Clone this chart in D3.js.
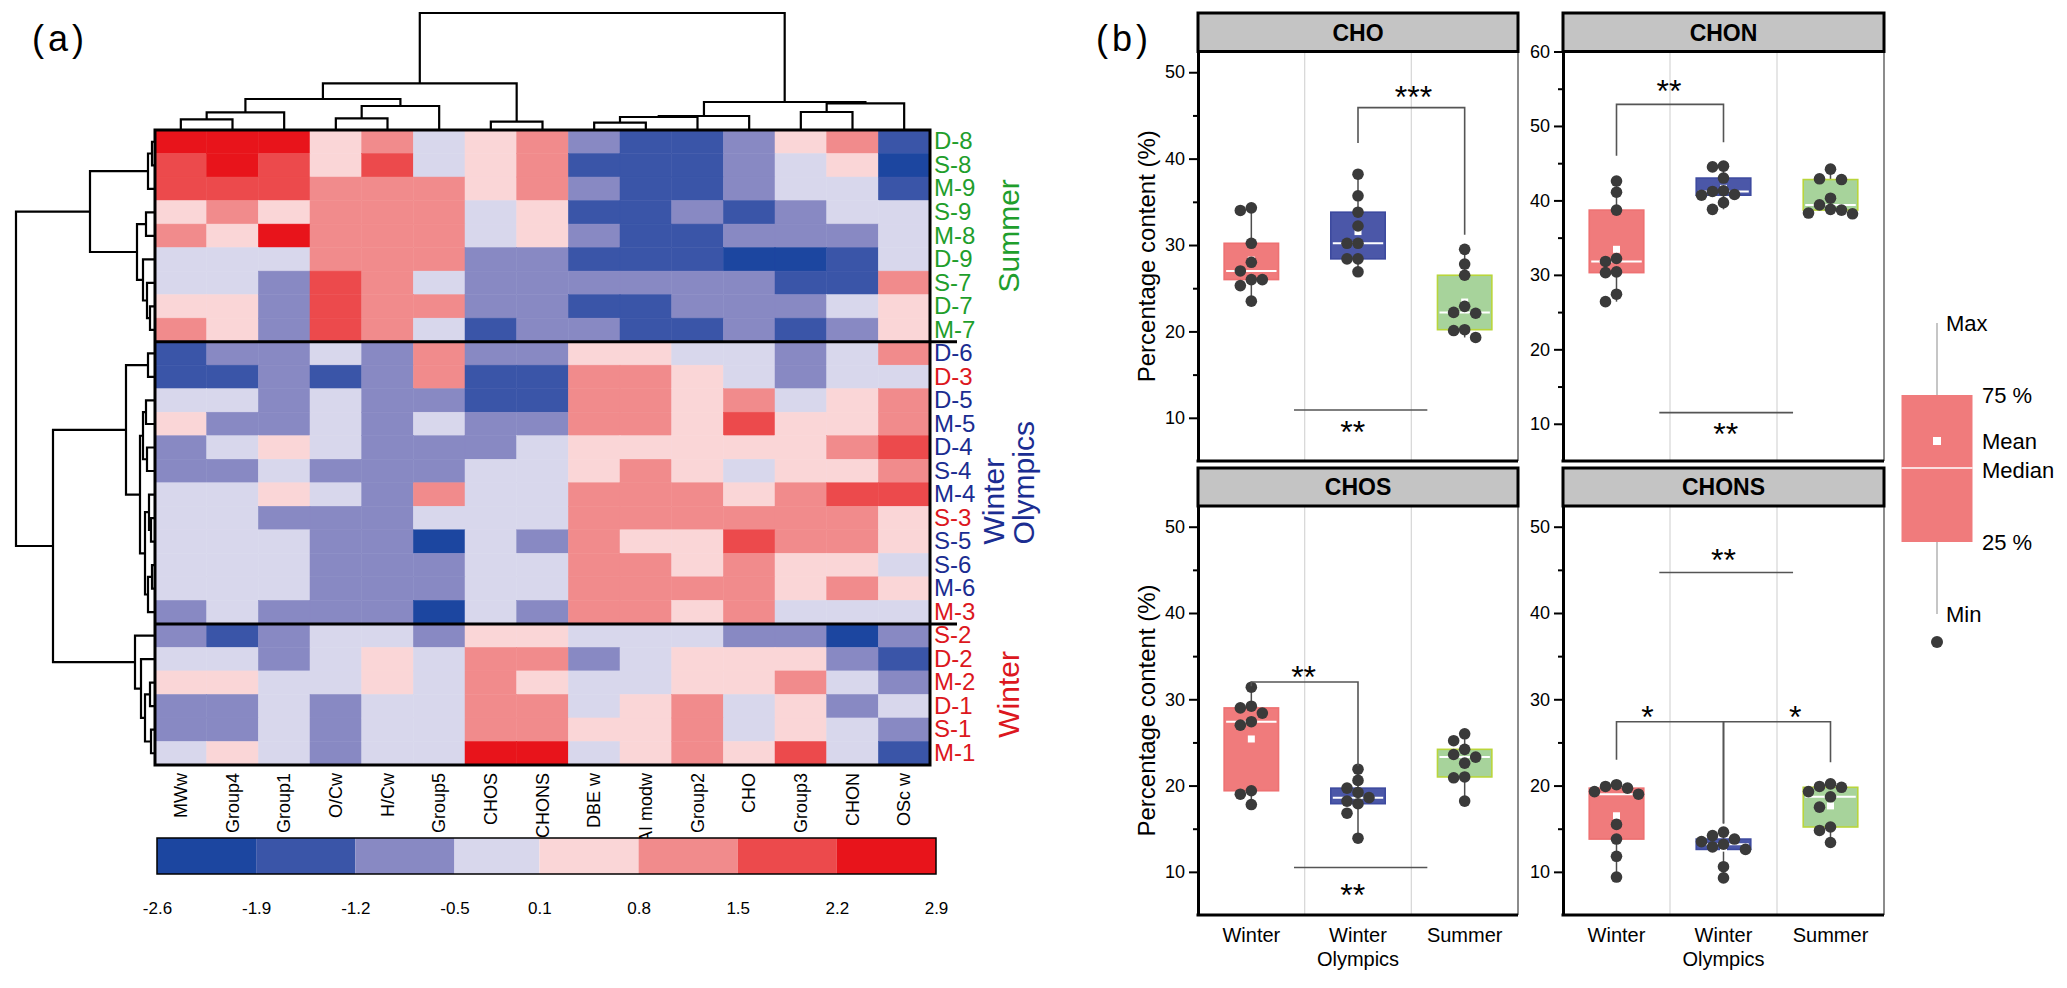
<!DOCTYPE html>
<html>
<head>
<meta charset="utf-8">
<title>Heatmap and box plots</title>
<script src="https://cdn.jsdelivr.net/npm/d3@7/dist/d3.min.js"></script>
<style>
  body { margin: 0; background: #fff; }
  svg { display: block; font-family: "Liberation Sans", Arial, sans-serif; }
</style>
</head>
<body>
<svg id="chart" width="2067" height="988"></svg>
<script>
// ---------------- data: panel (a) ----------------
const columns = ["MWw", "Group4", "Group1", "O/Cw", "H/Cw", "Group5", "CHOS", "CHONS",
                 "DBE w", "AI modw", "Group2", "CHO", "Group3", "CHON", "OSc w"];
const samples = ["D-8", "S-8", "M-9", "S-9", "M-8", "D-9", "S-7", "D-7", "M-7",
                 "D-6", "D-3", "D-5", "M-5", "D-4", "S-4", "M-4", "S-3", "S-5", "S-6", "M-6", "M-3",
                 "S-2", "D-2", "M-2", "D-1", "S-1", "M-1"];
// z-scores
const zscores = [
  [2.5, 2.5, 2.5, 0.4, 1.1, -0.2, 0.4, 1.1, -0.9, -1.6, -1.6, -0.9, 0.4, 1.1, -1.6],
  [1.8, 2.5, 1.8, 0.4, 1.8, -0.2, 0.4, 1.1, -1.6, -1.6, -1.6, -0.9, -0.2, 0.4, -2.3],
  [1.8, 1.8, 1.8, 1.1, 1.1, 1.1, 0.4, 1.1, -0.9, -1.6, -1.6, -0.9, -0.2, -0.2, -1.6],
  [0.4, 1.1, 0.4, 1.1, 1.1, 1.1, -0.2, 0.4, -1.6, -1.6, -0.9, -1.6, -0.9, -0.2, -0.2],
  [1.1, 0.4, 2.5, 1.1, 1.1, 1.1, -0.2, 0.4, -0.9, -1.6, -1.6, -0.9, -0.9, -0.9, -0.2],
  [-0.2, -0.2, -0.2, 1.1, 1.1, 1.1, -0.9, -0.9, -1.6, -1.6, -1.6, -2.3, -2.3, -1.6, -0.2],
  [-0.2, -0.2, -0.9, 1.8, 1.1, -0.2, -0.9, -0.9, -0.9, -0.9, -0.9, -0.9, -1.6, -1.6, 1.1],
  [0.4, 0.4, -0.9, 1.8, 1.1, 1.1, -0.9, -0.9, -1.6, -1.6, -0.9, -0.9, -0.9, -0.2, 0.4],
  [1.1, 0.4, -0.9, 1.8, 1.1, -0.2, -1.6, -0.9, -0.9, -1.6, -1.6, -0.9, -1.6, -0.9, 0.4],
  [-1.6, -0.9, -0.9, -0.2, -0.9, 1.1, -0.9, -0.9, 0.4, 0.4, -0.2, -0.2, -0.9, -0.2, 1.1],
  [-1.6, -1.6, -0.9, -1.6, -0.9, 1.1, -1.6, -1.6, 1.1, 1.1, 0.4, -0.2, -0.9, -0.2, -0.2],
  [-0.2, -0.2, -0.9, -0.2, -0.9, -0.9, -1.6, -1.6, 1.1, 1.1, 0.4, 1.1, -0.2, 0.4, 1.1],
  [0.4, -0.9, -0.9, -0.2, -0.9, -0.2, -0.9, -0.9, 1.1, 1.1, 0.4, 1.8, 0.4, 0.4, 1.1],
  [-0.9, -0.2, 0.4, -0.2, -0.9, -0.9, -0.9, -0.2, 0.4, 0.4, 0.4, 0.4, 0.4, 1.1, 1.8],
  [-0.9, -0.9, -0.2, -0.9, -0.9, -0.9, -0.2, -0.2, 0.4, 1.1, 0.4, -0.2, 0.4, 0.4, 1.1],
  [-0.2, -0.2, 0.4, -0.2, -0.9, 1.1, -0.2, -0.2, 1.1, 1.1, 1.1, 0.4, 1.1, 1.8, 1.8],
  [-0.2, -0.2, -0.9, -0.9, -0.9, -0.2, -0.2, -0.2, 1.1, 1.1, 1.1, 1.1, 1.1, 1.1, 0.4],
  [-0.2, -0.2, -0.2, -0.9, -0.9, -2.3, -0.2, -0.9, 1.1, 0.4, 0.4, 1.8, 1.1, 1.1, 0.4],
  [-0.2, -0.2, -0.2, -0.9, -0.9, -0.9, -0.2, -0.2, 1.1, 1.1, 0.4, 1.1, 0.4, 0.4, -0.2],
  [-0.2, -0.2, -0.2, -0.9, -0.9, -0.9, -0.2, -0.2, 1.1, 1.1, 1.1, 1.1, 0.4, 1.1, 0.4],
  [-0.9, -0.2, -0.9, -0.9, -0.9, -2.3, -0.2, -0.9, 1.1, 1.1, 0.4, 1.1, -0.2, -0.2, -0.2],
  [-0.9, -1.6, -0.9, -0.2, -0.2, -0.9, 0.4, 0.4, -0.2, -0.2, -0.2, -0.9, -0.9, -2.3, -0.9],
  [-0.2, -0.2, -0.9, -0.2, 0.4, -0.2, 1.1, 1.1, -0.9, -0.2, 0.4, 0.4, 0.4, -0.9, -1.6],
  [0.4, 0.4, -0.2, -0.2, 0.4, -0.2, 1.1, 0.4, -0.2, -0.2, 0.4, 0.4, 1.1, -0.2, -0.9],
  [-0.9, -0.9, -0.2, -0.9, -0.2, -0.2, 1.1, 1.1, -0.2, 0.4, 1.1, -0.2, 0.4, -0.9, -0.2],
  [-0.9, -0.9, -0.2, -0.9, -0.2, -0.2, 1.1, 1.1, 0.4, 0.4, 1.1, -0.2, 0.4, -0.2, -0.9],
  [-0.2, 0.4, -0.2, -0.9, -0.2, -0.2, 2.5, 2.5, -0.2, 0.4, 1.1, 0.4, 1.8, -0.2, -1.6]
];
const colorBreaks = [-2.6, -1.9, -1.2, -0.5, 0.1, 0.8, 1.5, 2.2, 2.9];
const colorSteps = ["#1c46a0", "#3a55a8", "#8889c3", "#d8d7ec", "#fad6d7", "#f18b8c", "#ec4a4c", "#e8141b"];
const clusterNames = [["Summer"], ["Winter", "Olympics"], ["Winter"]];
const clusterSizes = [9, 12, 6];

// linkage trees: merge(height, left, right), numbers are leaf indices
function merge(h, a, b) {
  const wrap = c => (typeof c === "number" ? { leaf: c } : c);
  return { h, children: [wrap(a), wrap(b)] };
}
const colTree = merge(117,
  merge(46.7,
    merge(31, merge(17.7, merge(10.7, 0, 1), 2), merge(24, merge(11.7, 3, 4), 5)),
    merge(8.3, 6, 7)),
  merge(28,
    merge(14, merge(13, merge(7.3, 8, 9), 10), 11),
    merge(26.6, merge(18, 12, 13), 14)));
const rowTree = merge(139,
  merge(65,
    merge(7, merge(3, 0, 1), 2),
    merge(18, merge(9, 3, 4), merge(12, 5, merge(8, 6, merge(5, 7, 8))))),
  merge(102,
    merge(29, merge(7, 9, 10),
      merge(15, merge(12, merge(9, 11, 12), merge(8, 13, 14)),
        merge(10, merge(6, 15, merge(4, 16, 17)), merge(7, merge(3, 18, 19), 20)))),
    merge(20, 21, merge(14, 22, merge(10, merge(5, 23, 24), merge(4, 25, 26))))));

// ---------------- data: panel (b) ----------------
const groups = ["Winter", "Winter Olympics", "Summer"];
const groupLines = [["Winter"], ["Winter", "Olympics"], ["Summer"]];
const CHO = [
  [34.3, 34.0, 30.2, 28.0, 27.0, 26.0, 26.0, 25.3, 23.5],
  [38.2, 35.7, 33.8, 32.2, 30.2, 30.2, 28.4, 28.4, 26.9],
  [29.5, 27.8, 26.5, 22.9, 22.2, 22.1, 20.2, 20.1, 19.3]];
const CHON = [
  [42.6, 41.1, 38.7, 32.2, 31.8, 30.4, 30.3, 27.4, 26.4],
  [44.6, 44.5, 43.0, 41.3, 41.2, 40.8, 40.7, 39.7, 38.8],
  [44.2, 42.9, 42.8, 40.3, 39.4, 38.8, 38.7, 38.3, 38.2]];
const CHOS = [
  [31.4, 29.2, 29.0, 28.4, 27.4, 27.0, 19.4, 19.0, 17.8],
  [21.9, 20.6, 19.7, 19.2, 18.6, 18.2, 17.9, 16.8, 13.9],
  [26.0, 25.2, 24.2, 23.6, 23.3, 22.6, 21.0, 20.9, 18.2]];
const CHONS = [
  [20.1, 19.9, 19.7, 19.3, 19.0, 15.5, 13.8, 11.8, 9.4],
  [14.6, 14.2, 13.8, 13.5, 13.2, 12.9, 12.6, 10.6, 9.3],
  [20.2, 19.9, 19.8, 19.3, 18.7, 17.5, 15.2, 14.8, 13.4]];
const yTicks = [10, 20, 30, 40, 50];
const yTicksCHON = [10, 20, 30, 40, 50, 60];
// significance marks (positions in group index / value units)
const sigCHO = [
  { from: 1, to: 2, top: 45.9, ends: [41.8, 31.2], label: "***", at: [1.52, 48.0] },
  { from: 0.4, to: 1.65, top: 10.9, label: "**", at: [0.95, 9.2] }];
const sigCHON = [
  { from: 0, to: 1, top: 52.9, ends: [46.0, 47.8], label: "**", at: [0.49, 55.6] },
  { from: 0.4, to: 1.65, top: 11.5, label: "**", at: [1.02, 9.6] }];
const sigCHOS = [
  { from: 0, to: 1, top: 32.0, ends: [31.5, 22.3], label: "**", at: [0.49, 33.4] },
  { from: 0.4, to: 1.65, top: 10.5, label: "**", at: [0.95, 8.1] }];
const sigCHONS = [
  { from: 0.4, to: 1.65, top: 44.7, label: "**", at: [1.0, 47.0] },
  { from: 0, to: 1, top: 27.4, ends: [23.0, 15.6], label: "*", at: [0.29, 28.8] },
  { from: 1, to: 2, top: 27.4, ends: [15.6, 22.7], label: "*", at: [1.67, 28.8] }];

// ---------------- drawing ----------------
const FONT = '"Liberation Sans", Arial, sans-serif';
const RED = "#dc1720", BLUE = "#1b2d91", GREEN = "#1f9e2c";
const svg = d3.select("#chart");

// ===== (a) heatmap =====
const hm = { x0: 155, x1: 930, y0: 130, y1: 765 };
const x = d3.scaleBand().domain(columns).range([hm.x0, hm.x1]);
const y = d3.scaleBand().domain(samples).range([hm.y0, hm.y1]);
const color = d3.scaleThreshold().domain(colorBreaks.slice(1, -1)).range(colorSteps);

const cells = zscores.flatMap((row, i) => row.map((v, j) => ({ s: samples[i], c: columns[j], v })));
svg.append("g").selectAll("rect").data(cells).join("rect")
  .attr("x", d => x(d.c)).attr("y", d => y(d.s))
  .attr("width", x.bandwidth()).attr("height", y.bandwidth())
  .attr("fill", d => color(d.v)).attr("stroke", d => color(d.v)).attr("stroke-width", 0.5);

function drawDendro(tree, along, level, top) {
  const root = d3.hierarchy(tree);
  root.eachAfter(n => {
    n.pos = n.children ? d3.mean(n.children, c => c.pos) : along(n.data.leaf);
    n.lev = level(n.children ? n.data.h : 0);
  });
  const paths = root.descendants().filter(n => n.children).map(n => {
    const [a, b] = n.children;
    return top ? `M${a.pos},${a.lev}V${n.lev}H${b.pos}V${b.lev}`
               : `M${a.lev},${a.pos}H${n.lev}V${b.pos}H${b.lev}`;
  });
  svg.append("g").selectAll("path").data(paths).join("path")
    .attr("d", d => d).attr("fill", "none").attr("stroke", "#000").attr("stroke-width", 2.2);
}
drawDendro(colTree, i => x(columns[i]) + x.bandwidth() / 2,
  d3.scaleLinear().domain([0, 117]).range([hm.y0, 13]), true);
drawDendro(rowTree, i => y(samples[i]) + y.bandwidth() / 2,
  d3.scaleLinear().domain([0, 139]).range([hm.x0, 16]), false);

// cluster dividers and frame
const cuts = d3.cumsum(clusterSizes).slice(0, -1);
svg.append("g").selectAll("line").data(cuts).join("line")
  .attr("x1", hm.x0).attr("x2", 957)
  .attr("y1", d => y(samples[d])).attr("y2", d => y(samples[d]))
  .attr("stroke", "#000").attr("stroke-width", 3);
svg.append("rect").attr("x", hm.x0).attr("y", hm.y0)
  .attr("width", hm.x1 - hm.x0).attr("height", hm.y1 - hm.y0)
  .attr("fill", "none").attr("stroke", "#000").attr("stroke-width", 3);

// column labels
svg.append("g").attr("transform", `translate(0,${hm.y1})`)
  .call(d3.axisBottom(x).tickSize(0))
  .call(g => g.select(".domain").remove())
  .call(g => g.selectAll("text").attr("transform", "rotate(-90)")
    .attr("x", -8).attr("y", 0).attr("dy", "0.35em").attr("text-anchor", "end")
    .attr("font-size", 18).attr("font-family", FONT).attr("fill", "#000"));

// row labels, coloured by the sampling period of the sample number
const periodColor = s => { const n = +s.split("-")[1]; return n <= 3 ? RED : n <= 6 ? BLUE : GREEN; };
svg.append("g").attr("transform", `translate(${hm.x1},0)`)
  .call(d3.axisRight(y).tickSize(0).tickPadding(4))
  .call(g => g.select(".domain").remove())
  .call(g => g.selectAll("text").attr("font-size", 24).attr("font-family", FONT)
    .attr("fill", d => periodColor(d)));

// cluster names
const clusterColors = [GREEN, BLUE, RED];
let startRow = 0;
clusterNames.forEach((lines, k) => {
  const top = y(samples[startRow]);
  const bottom = y(samples[startRow + clusterSizes[k] - 1]) + y.bandwidth();
  const cy = (top + bottom) / 2;
  const t = svg.append("text").attr("transform", `translate(1008,${cy}) rotate(-90)`)
    .attr("fill", clusterColors[k]).attr("font-size", 30).attr("font-family", FONT);
  const spans = lines.map((ln, j) => t.append("tspan")
    .attr("y", (j - (lines.length - 1) / 2) * 30).attr("dy", "0.35em").text(ln));
  const maxLen = d3.max(spans, s => s.node().getComputedTextLength());
  spans.forEach(s => s.attr("x", -maxLen / 2));
  startRow += clusterSizes[k];
});

// colour bar
const cb = { x0: 157, x1: 936, y0: 838, y1: 874 };
const cbx = d3.scaleLinear().domain(d3.extent(colorBreaks)).range([cb.x0, cb.x1]);
svg.append("g").selectAll("rect").data(d3.pairs(colorBreaks)).join("rect")
  .attr("x", d => cbx(d[0])).attr("y", cb.y0)
  .attr("width", d => cbx(d[1]) - cbx(d[0])).attr("height", cb.y1 - cb.y0)
  .attr("fill", d => color((d[0] + d[1]) / 2));
svg.append("rect").attr("x", cb.x0).attr("y", cb.y0)
  .attr("width", cb.x1 - cb.x0).attr("height", cb.y1 - cb.y0)
  .attr("fill", "none").attr("stroke", "#000").attr("stroke-width", 1.5);
svg.append("g").attr("transform", `translate(0,${cb.y1})`)
  .call(d3.axisBottom(cbx).tickValues(colorBreaks).tickSize(0).tickPadding(28)
    .tickFormat(d => d.toFixed(1)))
  .call(g => g.select(".domain").remove())
  .call(g => g.selectAll("text").attr("font-size", 17).attr("font-family", FONT).attr("fill", "#000"));

// ===== (b) box plots =====
const boxFill = ["#f07b7c", "#4b57a8", "#a7d39b"];
const boxStroke = ["#ee7172", "#3d4a9f", "#b9d53b"];

function dodge(vals, yv, step) {
  const placed = [];
  const offs = new Array(vals.length);
  d3.range(vals.length).sort((a, b) => vals[b] - vals[a]).forEach(i => {
    const py = yv(vals[i]);
    for (let k = 0; k < 20; k++) {
      const s = k === 0 ? 0 : (k % 2 ? -1 : 1) * Math.ceil(k / 2);
      const px = s * step;
      if (placed.every(p => Math.hypot(p[0] - px, p[1] - py) > step * 0.95)) {
        placed.push([px, py]); offs[i] = px; break;
      }
    }
  });
  return offs;
}

const panels = [
  { name: "CHO", data: CHO, sig: sigCHO, ticks: yTicks, x0: 1198, x1: 1518, h0: 13, y0: 51.5, y1: 461, domain: [5, 52.4], ylabel: true, xlabels: false },
  { name: "CHON", data: CHON, sig: sigCHON, ticks: yTicksCHON, x0: 1563, x1: 1884, h0: 13, y0: 51.5, y1: 461, domain: [5, 60], ylabel: false, xlabels: false },
  { name: "CHOS", data: CHOS, sig: sigCHOS, ticks: yTicks, x0: 1198, x1: 1518, h0: 468, y0: 506, y1: 915, domain: [5, 52.4], ylabel: true, xlabels: true },
  { name: "CHONS", data: CHONS, sig: sigCHONS, ticks: yTicks, x0: 1563, x1: 1884, h0: 468, y0: 506, y1: 915, domain: [5, 52.4], ylabel: false, xlabels: true }
];

panels.forEach(p => {
  const g = svg.append("g");
  const xb = d3.scaleBand().domain(groups).range([p.x0, p.x1]);
  const xi = d3.scaleLinear().domain([-0.5, 2.5]).range([p.x0, p.x1]);
  const yv = d3.scaleLinear().domain(p.domain).range([p.y1, p.y0]);
  const bw = xb.bandwidth();
  const boxW = bw * 0.51;

  // grid lines between groups
  g.selectAll(".grid").data(groups.slice(1)).join("line")
    .attr("x1", d => xb(d)).attr("x2", d => xb(d)).attr("y1", p.y0).attr("y2", p.y1)
    .attr("stroke", "#d9d9d9").attr("stroke-width", 1.3);

  // boxes
  p.data.forEach((vals, i) => {
    const s = vals.slice().sort(d3.ascending);
    const q1 = d3.quantile(s, 0.25), med = d3.quantile(s, 0.5), q3 = d3.quantile(s, 0.75);
    const mean = d3.mean(s);
    const cx = xi(i);
    g.append("line").attr("x1", cx).attr("x2", cx).attr("y1", yv(s[s.length - 1])).attr("y2", yv(s[0]))
      .attr("stroke", "#4d4d4d").attr("stroke-width", 1.5);
    g.append("rect").attr("x", cx - boxW / 2).attr("y", yv(q3))
      .attr("width", boxW).attr("height", yv(q1) - yv(q3))
      .attr("fill", boxFill[i]).attr("stroke", boxStroke[i]).attr("stroke-width", 1.6);
    g.append("line").attr("x1", cx - boxW / 2 + 2).attr("x2", cx + boxW / 2 - 2)
      .attr("y1", yv(med)).attr("y2", yv(med)).attr("stroke", "#fff").attr("stroke-width", 2);
    g.append("rect").attr("x", cx - 3.5).attr("y", yv(mean) - 3.5).attr("width", 7).attr("height", 7)
      .attr("fill", "#fff");
    const offs = dodge(vals, yv, 11);
    g.selectAll(null).data(vals).join("circle")
      .attr("cx", (d, k) => cx + offs[k]).attr("cy", d => yv(d)).attr("r", 5.8)
      .attr("fill", "#3a3a3a");
  });

  // significance marks
  p.sig.forEach(m => {
    const path = m.ends
      ? `M${xi(m.from)},${yv(m.ends[0])}V${yv(m.top)}H${xi(m.to)}V${yv(m.ends[1])}`
      : `M${xi(m.from)},${yv(m.top)}H${xi(m.to)}`;
    g.append("path").attr("d", path).attr("fill", "none").attr("stroke", "#555").attr("stroke-width", 1.6);
    g.append("text").attr("x", xi(m.at[0])).attr("y", yv(m.at[1]) + 18)
      .attr("text-anchor", "middle").attr("font-size", 32).attr("font-family", FONT).text(m.label);
  });

  // frame
  g.append("line").attr("x1", p.x1).attr("x2", p.x1).attr("y1", p.y0).attr("y2", p.y1)
    .attr("stroke", "#666").attr("stroke-width", 1.5);
  g.append("line").attr("x1", p.x0 - 1.5).attr("x2", p.x1).attr("y1", p.y1).attr("y2", p.y1)
    .attr("stroke", "#000").attr("stroke-width", 3);

  // y axis with minor ticks
  const minor = d3.range(p.domain[0] + 10, p.domain[1], 10);
  g.append("g").attr("transform", `translate(${p.x0},0)`)
    .call(d3.axisLeft(yv).tickValues(minor).tickSize(5).tickFormat(""))
    .call(a => a.select(".domain").remove())
    .call(a => a.selectAll("line").attr("stroke-width", 2));
  g.append("g").attr("transform", `translate(${p.x0},0)`)
    .call(d3.axisLeft(yv).tickValues(p.ticks).tickSize(9).tickPadding(4).tickSizeOuter(0))
    .call(a => a.select(".domain").attr("stroke-width", 3))
    .call(a => a.selectAll("line").attr("stroke-width", 2))
    .call(a => a.selectAll("text").attr("font-size", 18).attr("font-family", FONT).attr("fill", "#000"));

  // header strip
  g.append("rect").attr("x", p.x0).attr("y", p.h0).attr("width", p.x1 - p.x0).attr("height", p.y0 - p.h0)
    .attr("fill", "#c4c4c4").attr("stroke", "#000").attr("stroke-width", 3);
  g.append("text").attr("x", (p.x0 + p.x1) / 2).attr("y", (p.h0 + p.y0) / 2).attr("dy", "0.36em")
    .attr("text-anchor", "middle").attr("font-size", 23).attr("font-weight", "bold")
    .attr("font-family", FONT).text(p.name);

  if (p.ylabel) {
    g.append("text").attr("transform", `translate(1147,${(p.y0 + p.y1) / 2}) rotate(-90)`)
      .attr("dy", "0.35em").attr("text-anchor", "middle").attr("font-size", 24)
      .attr("font-family", FONT).text("Percentage content (%)");
  }
  if (p.xlabels) {
    const ax = g.append("g").attr("transform", `translate(0,${p.y1})`)
      .call(d3.axisBottom(xb).tickSize(0).tickPadding(13));
    ax.select(".domain").remove();
    ax.selectAll(".tick text").each(function (d) {
      const t = d3.select(this).text(null).attr("font-size", 20).attr("font-family", FONT).attr("fill", "#000");
      groupLines[groups.indexOf(d)].forEach((ln, j) =>
        t.append("tspan").attr("x", 0).attr("dy", j === 0 ? "0.71em" : "1.2em").text(ln));
    });
  }
});

// legend
const lg = { cx: 1937, max: 323, q3: 395, mean: 441, med: 468, q1: 542, min: 614, dot: 642, w: 71 };
const leg = svg.append("g").attr("font-family", FONT).attr("font-size", 22);
leg.append("line").attr("x1", lg.cx).attr("x2", lg.cx).attr("y1", lg.max).attr("y2", lg.min)
  .attr("stroke", "#b3b3b3").attr("stroke-width", 1.5);
leg.append("rect").attr("x", lg.cx - lg.w / 2).attr("y", lg.q3).attr("width", lg.w).attr("height", lg.q1 - lg.q3)
  .attr("fill", boxFill[0]);
leg.append("line").attr("x1", lg.cx - lg.w / 2).attr("x2", lg.cx + lg.w / 2).attr("y1", lg.med).attr("y2", lg.med)
  .attr("stroke", "#fff").attr("stroke-width", 1.5);
leg.append("rect").attr("x", lg.cx - 4).attr("y", lg.mean - 4).attr("width", 8).attr("height", 8).attr("fill", "#fff");
leg.append("circle").attr("cx", lg.cx).attr("cy", lg.dot).attr("r", 6).attr("fill", "#3a3a3a");
[["Max", lg.cx + 9, lg.max], ["75 %", lg.cx + 45, lg.q3], ["Mean", lg.cx + 45, lg.mean],
 ["Median", lg.cx + 45, lg.med + 2], ["25 %", lg.cx + 45, lg.q1], ["Min", lg.cx + 9, lg.min]]
  .forEach(([t, tx, ty]) => leg.append("text").attr("x", tx).attr("y", ty).attr("dy", "0.36em").text(t));

// panel letters
[["(a)", 32], ["(b)", 1096]].forEach(([t, tx]) =>
  svg.append("text").attr("x", tx).attr("y", 51).attr("font-size", 36).attr("letter-spacing", 4)
    .attr("font-family", FONT).text(t));
</script>
</body>
</html>
